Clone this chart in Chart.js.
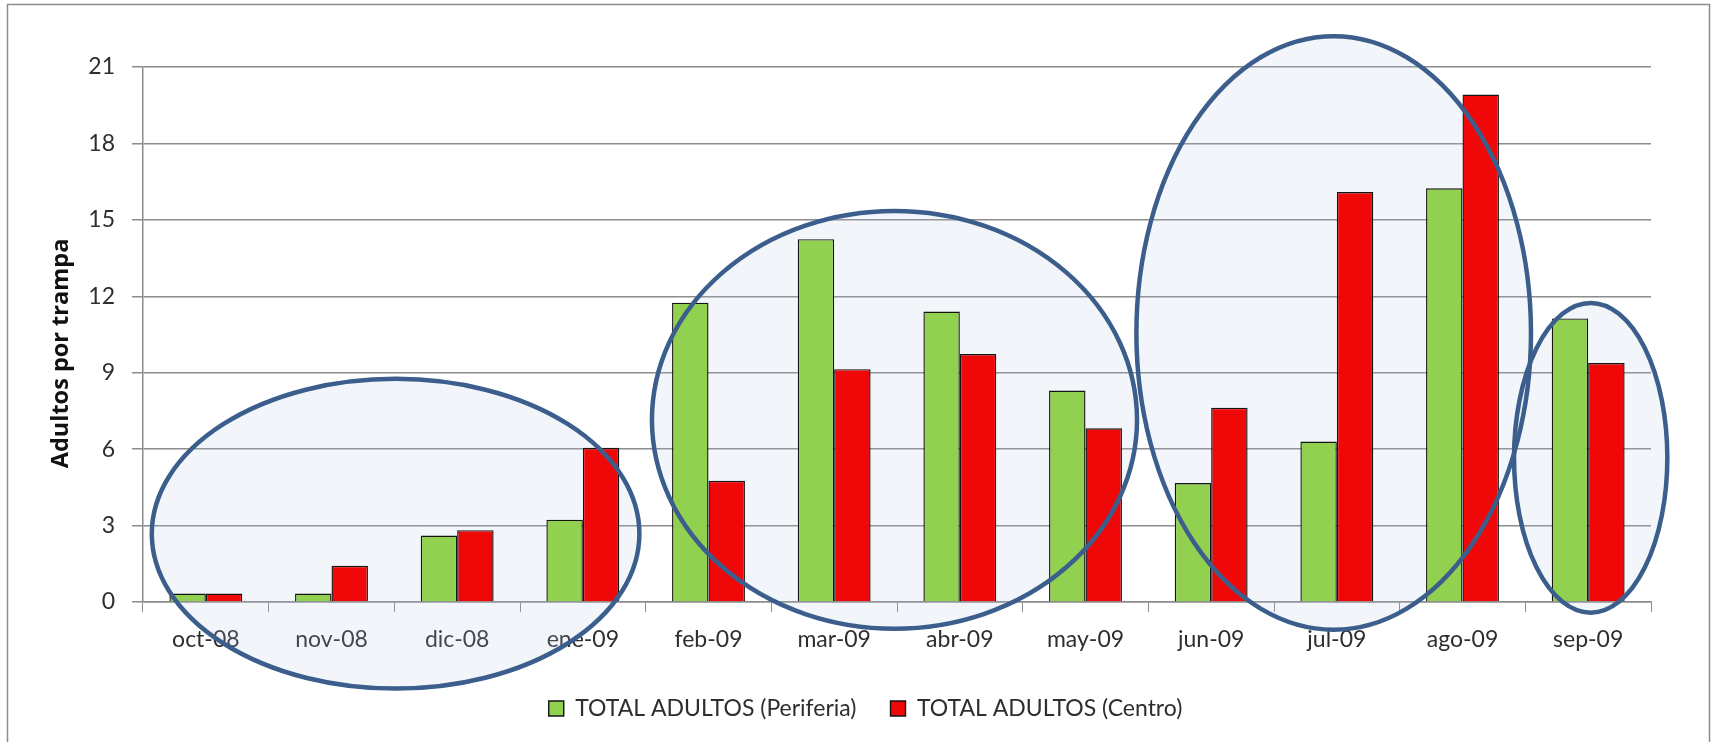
<!DOCTYPE html>
<html><head><meta charset="utf-8">
<script src="https://cdn.jsdelivr.net/npm/chart.js@4.4.0/dist/chart.umd.min.js"></script>
<style>
html,body{margin:0;padding:0;background:#fff;overflow:hidden}
#c{position:absolute;left:0;top:0}
</style></head>
<body>
<canvas id="c" width="1711" height="742"></canvas>
<script>
const categories = ['oct-08','nov-08','dic-08','ene-09','feb-09','mar-09','abr-09','may-09','jun-09','jul-09','ago-09','sep-09'];
const periferia = [0.33, 0.33, 2.61, 3.23, 11.75, 14.24, 11.40, 8.30, 4.67, 6.30, 16.24, 11.13];
const centro    = [0.33, 1.42, 2.82, 6.05, 4.76, 9.14, 9.73, 6.82, 7.62, 16.09, 19.92, 9.38];
const yTicks = [0, 3, 6, 9, 12, 15, 18, 21];
const seriesNames = ['TOTAL ADULTOS (Periferia)', 'TOTAL ADULTOS (Centro)'];
const yTitle = 'Adultos por trampa';
// highlighted groups, in data units: centre (category index, value) and half extents
const groupCenterCat = [1.51, 5.48, 8.975, 11.02];
const groupCenterVal = [2.68, 7.15, 10.56, 5.66];
const groupHalfCat  = [1.94, 1.93, 1.57, 0.61];
const groupHalfVal  = [6.08, 8.20, 11.65, 6.08];

const FONT = 'Lato';
const TXT = '#2e2e2e';
const GRID = '#8c8c8c';

function ellipsePath(ctx, chart, i) {
  const x = chart.scales.x, y = chart.scales.y;
  const cx = x.getPixelForValue(groupCenterCat[i]);
  const cy = y.getPixelForValue(groupCenterVal[i]);
  const rx = Math.abs(x.getPixelForValue(groupCenterCat[i] + groupHalfCat[i]) - cx);
  const ry = Math.abs(y.getPixelForValue(groupCenterVal[i] + groupHalfVal[i]) - cy);
  ctx.beginPath();
  ctx.ellipse(cx, cy, rx, ry, 0, 0, Math.PI * 2);
}

const decor = {
  id: 'decor',
  beforeDraw(chart) {
    const ctx = chart.ctx;
    ctx.save();
    ctx.fillStyle = '#ffffff';
    ctx.fillRect(0, 0, chart.width, chart.height);
    ctx.strokeStyle = GRID;
    ctx.lineWidth = 1.5;
    ctx.strokeRect(7.5, 4.5, chart.width - 9, chart.height + 100);
    ctx.restore();
  },
  beforeDatasetsDraw(chart) {
    const ctx = chart.ctx;
    ctx.save();
    ctx.fillStyle = 'rgba(180,200,228,0.17)';
    for (let i = 0; i < groupCenterCat.length; i++) { ellipsePath(ctx, chart, i); ctx.fill(); }
    ctx.restore();
  },
  afterDatasetsDraw(chart) {
    const ctx = chart.ctx;
    ctx.save();
    ctx.strokeStyle = '#3b5e8c';
    ctx.lineWidth = 4.5;
    for (let i = 0; i < groupCenterCat.length; i++) { ellipsePath(ctx, chart, i); ctx.stroke(); }
    // y axis title
    const a = chart.chartArea;
    ctx.translate(61, (a.top + a.bottom) / 2 + 19);
    ctx.rotate(-Math.PI / 2);
    ctx.fillStyle = '#111';
    ctx.font = 'bold 23.5px "Open Sans"';
    ctx.textAlign = 'center';
    ctx.textBaseline = 'middle';
    ctx.fillText(yTitle, 0, 0);
    ctx.restore();
  }
};

new Chart(document.getElementById('c'), {
  type: 'bar',
  data: {
    labels: categories,
    datasets: [
      { label: seriesNames[0], data: periferia, backgroundColor: '#92d050', borderColor: '#141414', borderWidth: 1.4 },
      { label: seriesNames[1], data: centro, backgroundColor: '#f00808', borderColor: '#141414', borderWidth: 1.4 }
    ]
  },
  options: {
    responsive: false,
    animation: false,
    devicePixelRatio: 1,
    layout: { padding: { left: 80, right: 60, top: 67, bottom: 12 } },
    datasets: { bar: { categoryPercentage: 0.58, barPercentage: 1.0 } },
    plugins: {
      tooltip: { enabled: false },
      legend: {
        position: 'bottom',
        labels: { font: { family: FONT, size: 23 }, color: TXT, boxWidth: 15, boxHeight: 15, padding: 34 }
      }
    },
    scales: {
      x: {
        grid: { display: true, drawOnChartArea: false, drawTicks: true, tickLength: 10, color: GRID, offset: true },
        border: { display: true, color: GRID, width: 1.5 },
        ticks: { font: { family: FONT, size: 23 }, color: TXT, padding: 14, maxRotation: 0, autoSkip: false },
        afterFit: s => { s.height = 61; }
      },
      y: {
        min: 0, max: 21,
        afterBuildTicks: s => { s.ticks = yTicks.map(v => ({ value: v })); },
        grid: { color: GRID, lineWidth: 1.5, tickLength: 11 },
        border: { display: true, color: GRID, width: 1.5 },
        ticks: { font: { family: FONT, size: 23 }, color: TXT, padding: 17 },
        afterFit: s => { s.width = 63; }
      }
    }
  },
  plugins: [decor]
});
</script>
</body></html>
